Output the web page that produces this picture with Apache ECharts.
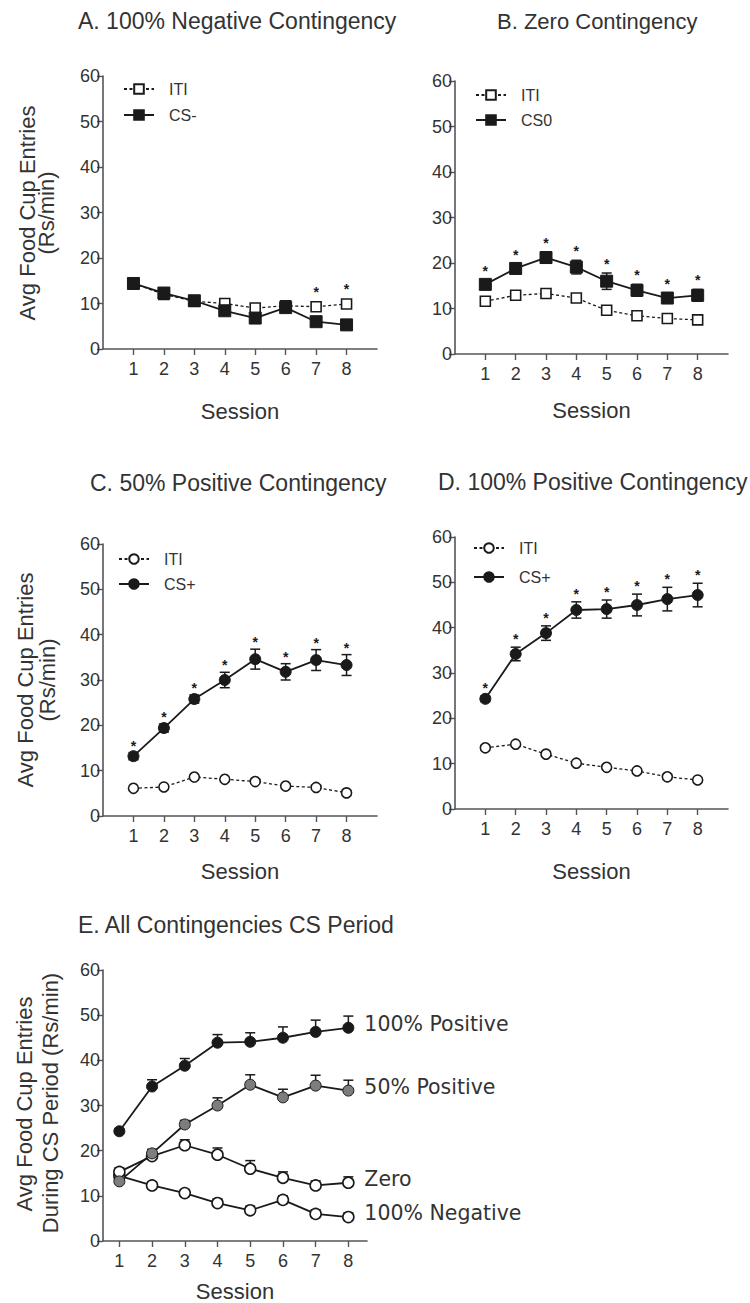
<!DOCTYPE html>
<html><head><meta charset="utf-8">
<script src="https://cdn.jsdelivr.net/npm/echarts@6/dist/echarts.min.js"></script>
<style>html,body{margin:0;padding:0;background:#fff}#c{width:750px;height:1303px}</style>
</head><body><div id="c"></div>
<script>
// ---------------- data ----------------
const sessions = [1, 2, 3, 4, 5, 6, 7, 8];

// A. 100% Negative Contingency
const negITI = [14.4, 12.0, 10.5, 10.0, 9.0, 9.5, 9.3, 9.9];
const negCS  = [14.4, 12.3, 10.6, 8.4, 6.8, 9.1, 6.0, 5.3];
const negITIErr = [0.7, 0.7, 0.7, 0.7, 0.7, 0.7, 0.7, 0.7];
const negErr = [0.8, 0.8, 0.8, 0.9, 0.9, 0.9, 0.9, 0.9];
const sigA = [0, 0, 0, 0, 0, 0, 1, 1];

// B. Zero Contingency
const zeroITI = [11.6, 12.9, 13.3, 12.3, 9.6, 8.4, 7.8, 7.5];
const zeroCS  = [15.3, 18.8, 21.2, 19.1, 16.0, 14.0, 12.3, 12.9];
const zeroErr = [0.9, 1.0, 1.2, 1.5, 1.8, 1.3, 1.0, 1.3];
const sigB = [1, 1, 1, 1, 1, 1, 1, 1];

// C. 50% Positive Contingency
const pos50ITI = [6.1, 6.4, 8.6, 8.1, 7.6, 6.6, 6.3, 5.1];
const pos50CS  = [13.2, 19.4, 25.8, 30.0, 34.6, 31.8, 34.4, 33.3];
const pos50Err = [0.8, 0.9, 0.9, 1.7, 2.2, 1.8, 2.3, 2.3];
const sigC = [1, 1, 1, 1, 1, 1, 1, 1];

// D. 100% Positive Contingency
const pos100ITI = [13.5, 14.3, 12.1, 10.1, 9.2, 8.4, 7.1, 6.4];
const pos100CS  = [24.3, 34.2, 38.8, 43.9, 44.1, 45.0, 46.3, 47.2];
const pos100Err = [0.6, 1.5, 1.6, 1.8, 2.0, 2.4, 2.6, 2.6];
const sigD = [1, 1, 1, 1, 1, 1, 1, 1];

// text
const panelTitles = ['A. 100% Negative Contingency', 'B. Zero Contingency',
  'C. 50% Positive Contingency', 'D. 100% Positive Contingency', 'E. All Contingencies CS Period'];
const legendA = ['ITI', 'CS-'];
const legendB = ['ITI', 'CS0'];
const legendC = ['ITI', 'CS+'];
const legendD = ['ITI', 'CS+'];
const yTitle = ['Avg Food Cup Entries', '(Rs/min)'];
const yTitleE = ['Avg Food Cup Entries', 'During CS Period (Rs/min)'];
const xTitle = 'Session';
const eLabels = ['100% Positive', '50% Positive', 'Zero', '100% Negative'];
const yTicks = { min: 0, max: 60, interval: 10 };

// ---------------- layout / style ----------------
const FONT = '"Liberation Sans", Arial, Helvetica, sans-serif';
const TXT = '#333';
const AX = '#555';
const INK = '#1a1a1a';
const grids = [
  { left: 103, top: 76, width: 274, height: 273 },
  { left: 455, top: 81, width: 273, height: 273 },
  { left: 103, top: 544, width: 274, height: 272 },
  { left: 455, top: 537, width: 273, height: 272 },
  { left: 103, top: 970, width: 264, height: 272 }
];
const xRanges = [[0, 9], [0, 9], [0, 9], [0, 9], [0.5, 8.57]];
const nameGaps = [51, 45, 44, 51, 39];

const xAxes = grids.map((g, i) => ({
  type: 'value', gridIndex: i, min: xRanges[i][0], max: xRanges[i][1],
  axisLine: { show: true, onZero: false, lineStyle: { color: AX, width: 1.6 } },
  axisTick: { show: true, customValues: sessions, length: 6, lineStyle: { color: AX, width: 1.4 } },
  axisLabel: { customValues: sessions, margin: 11, fontSize: 18, color: TXT, fontFamily: FONT },
  splitLine: { show: false },
  name: xTitle, nameLocation: 'middle', nameGap: nameGaps[i],
  nameTextStyle: { fontSize: 22, color: TXT, fontFamily: FONT }
}));
const yAxes = grids.map((g, i) => ({
  type: 'value', gridIndex: i, min: yTicks.min, max: yTicks.max, interval: yTicks.interval,
  axisLine: { show: true, lineStyle: { color: AX, width: 1.6 } },
  axisTick: { show: true, length: 6, lineStyle: { color: AX, width: 1.4 } },
  axisLabel: { margin: 3, fontSize: 18, color: TXT, fontFamily: FONT },
  splitLine: { show: false }
}));

function lineSeries(name, gi, vals, o) {
  const s = {
    name, type: 'line', xAxisIndex: gi, yAxisIndex: gi,
    data: sessions.map((x, i) => [x, vals[i]]),
    symbol: o.symbol, symbolSize: o.size,
    lineStyle: { color: INK, width: o.dashed ? 1.3 : 1.8, type: o.dashed ? [3, 2.5] : 'solid' },
    itemStyle: { color: o.fill, borderColor: INK, borderWidth: o.fill === '#fff' ? 1.6 : 1 },
    z: 3, silent: true, emphasis: { disabled: true }
  };
  if (o.endLabel) {
    s.endLabel = { show: true, formatter: o.endLabel, distance: 16, offset: [0, -4],
      fontSize: 20.5, color: TXT, fontFamily: '"DejaVu Sans", Verdana, sans-serif' };
  }
  return s;
}

function errSeries(gi, means, errs, sigs, upOnly, astGap) {
  return {
    type: 'custom', xAxisIndex: gi, yAxisIndex: gi, z: 2, silent: true,
    data: sessions.map((x, i) => [x, means[i], errs[i], sigs ? sigs[i] : 0]),
    renderItem(params, api) {
      const x = api.value(0), m = api.value(1), e = api.value(2), sig = api.value(3);
      const top = api.coord([x, m + e]);
      const bot = api.coord([x, upOnly ? m : m - e]);
      const cw = 5;
      const st = { stroke: INK, lineWidth: 1.5 };
      const ch = [
        { type: 'line', shape: { x1: top[0], y1: top[1], x2: bot[0], y2: bot[1] }, style: st },
        { type: 'line', shape: { x1: top[0] - cw, y1: top[1], x2: top[0] + cw, y2: top[1] }, style: st }
      ];
      if (!upOnly) ch.push({ type: 'line', shape: { x1: bot[0] - cw, y1: bot[1], x2: bot[0] + cw, y2: bot[1] }, style: st });
      if (sig) ch.push({ type: 'text', x: top[0], y: top[1] - astGap + 3,
        style: { text: '*', fill: INK, font: 'bold 14px ' + FONT, textAlign: 'center', textVerticalAlign: 'middle', align: 'center', verticalAlign: 'middle' } });
      return { type: 'group', children: ch };
    }
  };
}

const series = [
  // A
  errSeries(0, negITI, negITIErr, sigA, false, 15),
  errSeries(0, negCS, negErr, null, false, 0),
  lineSeries('A|' + legendA[0], 0, negITI, { symbol: 'rect', size: 10, fill: '#fff', dashed: true }),
  lineSeries('A|' + legendA[1], 0, negCS, { symbol: 'rect', size: 12, fill: INK }),
  // B
  errSeries(1, zeroCS, zeroErr, sigB, false, 12),
  lineSeries('B|' + legendB[0], 1, zeroITI, { symbol: 'rect', size: 10, fill: '#fff', dashed: true }),
  lineSeries('B|' + legendB[1], 1, zeroCS, { symbol: 'rect', size: 12, fill: INK }),
  // C
  errSeries(2, pos50CS, pos50Err, sigC, false, 10),
  lineSeries('C|' + legendC[0], 2, pos50ITI, { symbol: 'circle', size: 10, fill: '#fff', dashed: true }),
  lineSeries('C|' + legendC[1], 2, pos50CS, { symbol: 'circle', size: 11, fill: INK }),
  // D
  errSeries(3, pos100CS, pos100Err, sigD, false, 11),
  lineSeries('D|' + legendD[0], 3, pos100ITI, { symbol: 'circle', size: 10, fill: '#fff', dashed: true }),
  lineSeries('D|' + legendD[1], 3, pos100CS, { symbol: 'circle', size: 11, fill: INK }),
  // E
  errSeries(4, pos100CS, pos100Err, null, true, 0),
  errSeries(4, pos50CS, pos50Err, null, true, 0),
  errSeries(4, zeroCS, zeroErr, null, true, 0),
  errSeries(4, negCS, negErr, null, true, 0),
  lineSeries('E|' + eLabels[3], 4, negCS, { symbol: 'circle', size: 11, fill: '#fff', endLabel: eLabels[3] }),
  lineSeries('E|' + eLabels[2], 4, zeroCS, { symbol: 'circle', size: 11, fill: '#fff', endLabel: eLabels[2] }),
  lineSeries('E|' + eLabels[1], 4, pos50CS, { symbol: 'circle', size: 11, fill: '#7d7d7d', endLabel: eLabels[1] }),
  lineSeries('E|' + eLabels[0], 4, pos100CS, { symbol: 'circle', size: 11, fill: INK, endLabel: eLabels[0] })
];

function legend(prefix, names, left, top, gap) {
  return {
    data: names.map(n => prefix + '|' + n), orient: 'vertical', left, top,
    itemWidth: 30, itemHeight: 12, itemGap: gap, selectedMode: false,
    formatter: n => n.split('|')[1],
    textStyle: { fontSize: 16, color: TXT, fontFamily: FONT, padding: [0, 0, 0, 10] }
  };
}

function gText(text, x, y, size, rot, align) {
  return { type: 'text', x, y, rotation: rot || 0, silent: true,
    style: { text, fill: TXT, font: size + 'px ' + FONT,
      textAlign: align || 'left', textVerticalAlign: 'middle', align: align || 'left', verticalAlign: 'middle' } };
}
const R = Math.PI / 2;
const graphics = [
  gText(panelTitles[0], 78, 21, 23),
  gText(panelTitles[1], 497, 21, 22),
  gText(panelTitles[2], 90, 483, 23),
  gText(panelTitles[3], 438, 482, 23),
  gText(panelTitles[4], 78, 925, 23),
  gText(yTitle[0], 27, 213, 22, R, 'center'),
  gText(yTitle[1], 46, 213, 22, R, 'center'),
  gText(yTitle[0], 25, 680, 22, R, 'center'),
  gText(yTitle[1], 47, 680, 22, R, 'center'),
  gText(yTitleE[0], 24, 1104, 22, R, 'center'),
  gText(yTitleE[1], 50, 1103, 22, R, 'center')
];

const chart = echarts.init(document.getElementById('c'), null, { renderer: 'svg', width: 750, height: 1303 });
chart.setOption({
  backgroundColor: '#fff',
  animation: false,
  grid: grids,
  xAxis: xAxes,
  yAxis: yAxes,
  legend: [
    legend('A', legendA, 118, 76, 10),
    legend('B', legendB, 470, 82, 9),
    legend('C', legendC, 113, 546, 9),
    legend('D', legendD, 468, 535, 13)
  ],
  graphic: graphics,
  series
});
</script>
</body></html>
